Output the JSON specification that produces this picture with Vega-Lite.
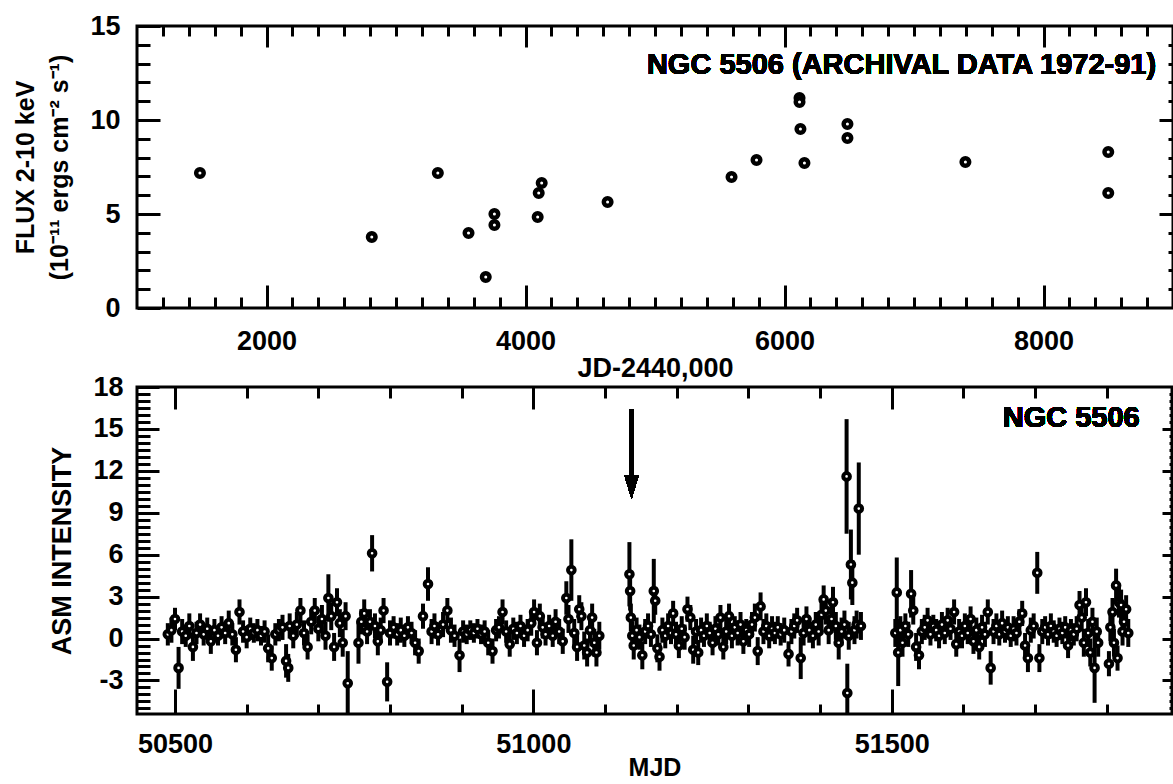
{
  "$schema": "https://vega.github.io/schema/vega-lite/v6.json",
  "background": "white",
  "padding": {"left": 12, "top": 10, "right": 0, "bottom": 0},
  "spacing": 79,
  "bounds": "flush",
  "config": {
    "view": {"stroke": "black", "strokeWidth": 3},
    "axis": {
      "domain": false, "grid": false, "tickColor": "black", "tickWidth": 3,
      "labelFont": "Liberation Sans", "labelFontWeight": "bold", "labelFontSize": 27, "labelColor": "black",
      "labelFlush": false, "labelOverlap": false, "labelBound": false,
      "titleFont": "Liberation Sans", "titleFontWeight": "bold", "titleFontSize": 27, "titleColor": "black"
    }
  },
  "datasets": {
    "archival": [
      {"jd": 1486, "flux": 7.18}, {"jd": 2813, "flux": 3.78}, {"jd": 3323, "flux": 7.18},
      {"jd": 3560, "flux": 3.99}, {"jd": 3693, "flux": 1.65}, {"jd": 3760, "flux": 4.41},
      {"jd": 3760, "flux": 5.0}, {"jd": 4094, "flux": 4.84}, {"jd": 4102, "flux": 6.12},
      {"jd": 4125, "flux": 6.65}, {"jd": 4634, "flux": 5.64}, {"jd": 5591, "flux": 6.97},
      {"jd": 5784, "flux": 7.87}, {"jd": 6116, "flux": 11.17}, {"jd": 6116, "flux": 10.96},
      {"jd": 6123, "flux": 9.52}, {"jd": 6154, "flux": 7.71}, {"jd": 6486, "flux": 9.79},
      {"jd": 6486, "flux": 9.04}, {"jd": 7397, "flux": 7.77}, {"jd": 8500, "flux": 8.3},
      {"jd": 8500, "flux": 6.12}
    ],
    "asm": [
      {"mjd": 50490, "rate": 0.3, "err": 0.8}, {"mjd": 50495, "rate": 0.6, "err": 0.9},
      {"mjd": 50500, "rate": 1.4, "err": 0.8}, {"mjd": 50505, "rate": -2.1, "err": 1.5},
      {"mjd": 50510, "rate": 0.5, "err": 0.9}, {"mjd": 50515, "rate": 0.2, "err": 0.8},
      {"mjd": 50520, "rate": 0.9, "err": 0.9}, {"mjd": 50525, "rate": -0.6, "err": 1.0},
      {"mjd": 50530, "rate": 0.4, "err": 0.8}, {"mjd": 50535, "rate": 1.0, "err": 0.8},
      {"mjd": 50540, "rate": 0.3, "err": 0.8}, {"mjd": 50545, "rate": 0.7, "err": 0.8},
      {"mjd": 50550, "rate": -0.2, "err": 0.9}, {"mjd": 50555, "rate": 0.6, "err": 0.8},
      {"mjd": 50560, "rate": 0.2, "err": 0.7}, {"mjd": 50565, "rate": 0.8, "err": 0.8},
      {"mjd": 50570, "rate": 0.4, "err": 0.8}, {"mjd": 50575, "rate": 1.1, "err": 0.9},
      {"mjd": 50580, "rate": 0.3, "err": 0.8}, {"mjd": 50585, "rate": -0.8, "err": 0.9},
      {"mjd": 50590, "rate": 1.9, "err": 0.9}, {"mjd": 50595, "rate": 0.5, "err": 0.8},
      {"mjd": 50600, "rate": 0.1, "err": 0.8}, {"mjd": 50605, "rate": 0.7, "err": 0.8},
      {"mjd": 50610, "rate": 0.4, "err": 0.7}, {"mjd": 50615, "rate": 0.6, "err": 0.8},
      {"mjd": 50620, "rate": 0.2, "err": 0.7}, {"mjd": 50625, "rate": 0.5, "err": 0.8},
      {"mjd": 50630, "rate": -0.7, "err": 1.0}, {"mjd": 50635, "rate": -1.4, "err": 0.9},
      {"mjd": 50640, "rate": 0.3, "err": 0.8}, {"mjd": 50645, "rate": 0.6, "err": 0.8},
      {"mjd": 50650, "rate": 0.8, "err": 0.9}, {"mjd": 50655, "rate": -1.6, "err": 1.2},
      {"mjd": 50658, "rate": -2.1, "err": 1.0}, {"mjd": 50660, "rate": 0.9, "err": 0.9},
      {"mjd": 50665, "rate": 0.2, "err": 0.9}, {"mjd": 50670, "rate": 1.0, "err": 0.9},
      {"mjd": 50675, "rate": 2.0, "err": 0.9}, {"mjd": 50680, "rate": 0.4, "err": 0.9},
      {"mjd": 50685, "rate": -0.6, "err": 0.9}, {"mjd": 50690, "rate": 1.2, "err": 0.9},
      {"mjd": 50695, "rate": 2.0, "err": 0.9}, {"mjd": 50700, "rate": 0.7, "err": 0.9},
      {"mjd": 50705, "rate": 1.4, "err": 1.0}, {"mjd": 50710, "rate": 0.2, "err": 1.0},
      {"mjd": 50714, "rate": 2.9, "err": 1.7}, {"mjd": 50718, "rate": 1.6, "err": 1.0},
      {"mjd": 50722, "rate": -0.6, "err": 1.0}, {"mjd": 50726, "rate": 2.6, "err": 1.0},
      {"mjd": 50730, "rate": 1.1, "err": 1.0}, {"mjd": 50734, "rate": -0.3, "err": 1.0},
      {"mjd": 50738, "rate": 1.6, "err": 1.0}, {"mjd": 50741, "rate": -3.2, "err": 2.3},
      {"mjd": 50756, "rate": -0.3, "err": 1.5}, {"mjd": 50760, "rate": 1.2, "err": 0.9},
      {"mjd": 50764, "rate": 1.8, "err": 1.0}, {"mjd": 50768, "rate": 0.5, "err": 0.9},
      {"mjd": 50772, "rate": 1.2, "err": 0.9}, {"mjd": 50775, "rate": 6.1, "err": 1.3},
      {"mjd": 50779, "rate": 0.9, "err": 0.9}, {"mjd": 50783, "rate": -0.2, "err": 1.0},
      {"mjd": 50787, "rate": 0.6, "err": 0.9}, {"mjd": 50791, "rate": 2.0, "err": 0.9},
      {"mjd": 50796, "rate": -3.1, "err": 1.4}, {"mjd": 50800, "rate": 0.4, "err": 0.9},
      {"mjd": 50805, "rate": 0.8, "err": 0.8}, {"mjd": 50810, "rate": 0.3, "err": 0.8},
      {"mjd": 50815, "rate": 0.6, "err": 0.9}, {"mjd": 50820, "rate": 0.2, "err": 0.8},
      {"mjd": 50825, "rate": 0.8, "err": 0.8}, {"mjd": 50830, "rate": 0.4, "err": 0.8},
      {"mjd": 50835, "rate": -0.3, "err": 0.9}, {"mjd": 50840, "rate": -0.9, "err": 0.9},
      {"mjd": 50846, "rate": 1.6, "err": 0.9}, {"mjd": 50853, "rate": 3.9, "err": 1.2},
      {"mjd": 50858, "rate": 0.5, "err": 0.9}, {"mjd": 50862, "rate": 0.9, "err": 0.9},
      {"mjd": 50867, "rate": 0.3, "err": 0.8}, {"mjd": 50874, "rate": 1.0, "err": 0.9},
      {"mjd": 50880, "rate": 2.0, "err": 0.9}, {"mjd": 50885, "rate": 0.6, "err": 0.9},
      {"mjd": 50890, "rate": 0.2, "err": 0.8}, {"mjd": 50897, "rate": -1.2, "err": 1.2},
      {"mjd": 50902, "rate": 0.5, "err": 0.8}, {"mjd": 50907, "rate": 0.3, "err": 0.7},
      {"mjd": 50912, "rate": 0.6, "err": 0.7}, {"mjd": 50917, "rate": 0.4, "err": 0.7},
      {"mjd": 50922, "rate": 0.7, "err": 0.7}, {"mjd": 50927, "rate": 0.3, "err": 0.7},
      {"mjd": 50932, "rate": 0.5, "err": 0.8}, {"mjd": 50937, "rate": -0.3, "err": 0.9},
      {"mjd": 50943, "rate": -0.9, "err": 0.9}, {"mjd": 50948, "rate": 0.6, "err": 0.8},
      {"mjd": 50952, "rate": 0.8, "err": 0.8}, {"mjd": 50957, "rate": 1.9, "err": 0.9},
      {"mjd": 50962, "rate": 0.5, "err": 0.8}, {"mjd": 50967, "rate": -0.4, "err": 0.9},
      {"mjd": 50972, "rate": 0.7, "err": 0.8}, {"mjd": 50977, "rate": 0.4, "err": 0.8},
      {"mjd": 50982, "rate": 0.9, "err": 0.8}, {"mjd": 50987, "rate": 0.2, "err": 0.8},
      {"mjd": 50992, "rate": 0.6, "err": 0.8}, {"mjd": 50997, "rate": 1.1, "err": 0.9},
      {"mjd": 51001, "rate": 1.9, "err": 0.9}, {"mjd": 51005, "rate": -0.3, "err": 0.9},
      {"mjd": 51009, "rate": 1.6, "err": 0.9}, {"mjd": 51013, "rate": 0.8, "err": 0.8},
      {"mjd": 51017, "rate": 0.3, "err": 0.8}, {"mjd": 51022, "rate": 0.9, "err": 0.8},
      {"mjd": 51027, "rate": 0.2, "err": 0.8}, {"mjd": 51031, "rate": 1.2, "err": 0.9},
      {"mjd": 51036, "rate": 0.5, "err": 0.9}, {"mjd": 51041, "rate": -0.2, "err": 0.9},
      {"mjd": 51046, "rate": 2.9, "err": 1.2}, {"mjd": 51049, "rate": 1.4, "err": 1.0},
      {"mjd": 51053, "rate": 4.9, "err": 2.2}, {"mjd": 51057, "rate": 0.4, "err": 1.0},
      {"mjd": 51061, "rate": -0.6, "err": 1.0}, {"mjd": 51064, "rate": 2.1, "err": 1.0},
      {"mjd": 51067, "rate": 1.6, "err": 1.0}, {"mjd": 51071, "rate": -0.5, "err": 1.0},
      {"mjd": 51075, "rate": -1.0, "err": 1.0}, {"mjd": 51079, "rate": 0.6, "err": 0.9},
      {"mjd": 51082, "rate": 1.5, "err": 1.0}, {"mjd": 51085, "rate": -0.3, "err": 1.0},
      {"mjd": 51088, "rate": -1.0, "err": 1.0}, {"mjd": 51092, "rate": 0.2, "err": 1.0},
      {"mjd": 51134, "rate": 4.6, "err": 2.3}, {"mjd": 51135, "rate": 3.4, "err": 1.4},
      {"mjd": 51136, "rate": 1.5, "err": 1.0}, {"mjd": 51138, "rate": 0.2, "err": 1.0},
      {"mjd": 51140, "rate": -0.5, "err": 1.0}, {"mjd": 51144, "rate": 0.6, "err": 0.9},
      {"mjd": 51148, "rate": 0.1, "err": 0.9}, {"mjd": 51152, "rate": -1.2, "err": 1.0},
      {"mjd": 51156, "rate": 0.5, "err": 0.9}, {"mjd": 51160, "rate": 0.9, "err": 0.9},
      {"mjd": 51164, "rate": 0.3, "err": 0.9}, {"mjd": 51168, "rate": 3.4, "err": 2.3},
      {"mjd": 51170, "rate": 2.7, "err": 1.0}, {"mjd": 51173, "rate": -0.7, "err": 1.0},
      {"mjd": 51176, "rate": -1.3, "err": 1.0}, {"mjd": 51180, "rate": 0.6, "err": 0.9},
      {"mjd": 51184, "rate": 0.2, "err": 0.9}, {"mjd": 51188, "rate": 0.9, "err": 0.9},
      {"mjd": 51192, "rate": 0.4, "err": 0.8}, {"mjd": 51195, "rate": 1.8, "err": 0.9},
      {"mjd": 51199, "rate": 0.3, "err": 0.9}, {"mjd": 51203, "rate": -0.5, "err": 0.9},
      {"mjd": 51207, "rate": 0.7, "err": 0.9}, {"mjd": 51211, "rate": 0.1, "err": 0.9},
      {"mjd": 51215, "rate": 2.1, "err": 0.9}, {"mjd": 51219, "rate": 1.5, "err": 0.9},
      {"mjd": 51223, "rate": -0.8, "err": 1.0}, {"mjd": 51227, "rate": 0.5, "err": 0.9},
      {"mjd": 51230, "rate": -1.0, "err": 0.9}, {"mjd": 51234, "rate": 0.6, "err": 0.9},
      {"mjd": 51238, "rate": 0.2, "err": 0.8}, {"mjd": 51242, "rate": 0.9, "err": 0.9},
      {"mjd": 51246, "rate": 0.4, "err": 0.8}, {"mjd": 51250, "rate": -0.3, "err": 0.9},
      {"mjd": 51254, "rate": 0.7, "err": 0.9}, {"mjd": 51258, "rate": 0.3, "err": 0.8},
      {"mjd": 51261, "rate": 1.5, "err": 0.9}, {"mjd": 51265, "rate": -0.6, "err": 0.9},
      {"mjd": 51269, "rate": 0.5, "err": 0.9}, {"mjd": 51273, "rate": 1.6, "err": 0.9},
      {"mjd": 51277, "rate": 0.2, "err": 0.9}, {"mjd": 51281, "rate": 0.8, "err": 0.8},
      {"mjd": 51285, "rate": 0.4, "err": 0.9}, {"mjd": 51289, "rate": 1.0, "err": 0.9},
      {"mjd": 51293, "rate": -0.2, "err": 0.9}, {"mjd": 51297, "rate": 0.6, "err": 0.8},
      {"mjd": 51301, "rate": 0.3, "err": 0.9}, {"mjd": 51305, "rate": 1.0, "err": 0.9},
      {"mjd": 51309, "rate": 1.5, "err": 1.0}, {"mjd": 51313, "rate": -0.9, "err": 1.0},
      {"mjd": 51317, "rate": 2.3, "err": 1.0}, {"mjd": 51321, "rate": 0.5, "err": 0.9},
      {"mjd": 51325, "rate": 0.9, "err": 0.9}, {"mjd": 51329, "rate": 0.2, "err": 0.9},
      {"mjd": 51333, "rate": 0.7, "err": 0.9}, {"mjd": 51337, "rate": 0.4, "err": 0.8},
      {"mjd": 51341, "rate": 0.8, "err": 0.8}, {"mjd": 51345, "rate": 0.3, "err": 0.8},
      {"mjd": 51350, "rate": 0.6, "err": 0.9}, {"mjd": 51356, "rate": -1.1, "err": 0.9},
      {"mjd": 51360, "rate": 0.5, "err": 0.9}, {"mjd": 51364, "rate": 0.9, "err": 0.9},
      {"mjd": 51368, "rate": 1.3, "err": 0.9}, {"mjd": 51373, "rate": -1.4, "err": 1.5},
      {"mjd": 51377, "rate": 0.4, "err": 0.9}, {"mjd": 51381, "rate": 1.4, "err": 0.9},
      {"mjd": 51385, "rate": 0.6, "err": 0.9}, {"mjd": 51390, "rate": 0.2, "err": 0.9},
      {"mjd": 51394, "rate": 1.0, "err": 0.9}, {"mjd": 51398, "rate": 0.5, "err": 1.0},
      {"mjd": 51402, "rate": 1.7, "err": 1.0}, {"mjd": 51405, "rate": 2.8, "err": 1.0},
      {"mjd": 51408, "rate": 2.0, "err": 1.0}, {"mjd": 51412, "rate": 0.6, "err": 1.0},
      {"mjd": 51416, "rate": 1.4, "err": 1.0}, {"mjd": 51418, "rate": 2.6, "err": 1.1},
      {"mjd": 51422, "rate": 0.9, "err": 1.0}, {"mjd": 51426, "rate": -0.3, "err": 1.2},
      {"mjd": 51430, "rate": 0.5, "err": 1.0}, {"mjd": 51434, "rate": 1.0, "err": 1.0},
      {"mjd": 51437, "rate": 11.6, "err": 4.1}, {"mjd": 51438, "rate": -3.9, "err": 2.1},
      {"mjd": 51440, "rate": 0.2, "err": 1.0}, {"mjd": 51443, "rate": 5.3, "err": 2.5},
      {"mjd": 51445, "rate": 4.0, "err": 1.6}, {"mjd": 51448, "rate": 0.6, "err": 1.0},
      {"mjd": 51451, "rate": 1.0, "err": 1.0}, {"mjd": 51454, "rate": 9.3, "err": 3.3},
      {"mjd": 51457, "rate": 0.9, "err": 1.0},
      {"mjd": 51505, "rate": 0.4, "err": 1.0}, {"mjd": 51507, "rate": 3.3, "err": 2.5},
      {"mjd": 51509, "rate": -1.0, "err": 2.4}, {"mjd": 51512, "rate": 0.6, "err": 1.0},
      {"mjd": 51515, "rate": -0.3, "err": 1.0}, {"mjd": 51519, "rate": 0.9, "err": 0.9},
      {"mjd": 51523, "rate": 0.3, "err": 0.9}, {"mjd": 51527, "rate": 3.2, "err": 1.7},
      {"mjd": 51530, "rate": 2.0, "err": 1.0}, {"mjd": 51534, "rate": -0.6, "err": 1.0},
      {"mjd": 51538, "rate": -1.2, "err": 1.0}, {"mjd": 51542, "rate": 0.5, "err": 0.9},
      {"mjd": 51546, "rate": 0.8, "err": 0.9}, {"mjd": 51550, "rate": 1.3, "err": 0.9},
      {"mjd": 51554, "rate": 0.3, "err": 0.8}, {"mjd": 51558, "rate": 0.9, "err": 0.8},
      {"mjd": 51562, "rate": 0.6, "err": 0.8}, {"mjd": 51566, "rate": 0.2, "err": 0.9},
      {"mjd": 51570, "rate": 1.0, "err": 0.9}, {"mjd": 51574, "rate": 0.4, "err": 0.8},
      {"mjd": 51578, "rate": 1.3, "err": 0.9}, {"mjd": 51582, "rate": 0.7, "err": 0.8},
      {"mjd": 51587, "rate": 1.9, "err": 0.9}, {"mjd": 51590, "rate": -0.4, "err": 0.9},
      {"mjd": 51594, "rate": 0.5, "err": 0.9}, {"mjd": 51598, "rate": 0.2, "err": 0.9},
      {"mjd": 51602, "rate": 0.9, "err": 0.9}, {"mjd": 51606, "rate": 0.4, "err": 0.8},
      {"mjd": 51610, "rate": 1.4, "err": 0.9}, {"mjd": 51614, "rate": -0.2, "err": 0.9},
      {"mjd": 51618, "rate": 0.6, "err": 0.9}, {"mjd": 51622, "rate": -0.6, "err": 0.9},
      {"mjd": 51626, "rate": 0.8, "err": 0.9}, {"mjd": 51630, "rate": 0.3, "err": 0.9},
      {"mjd": 51634, "rate": 1.9, "err": 0.9}, {"mjd": 51638, "rate": -2.1, "err": 1.2},
      {"mjd": 51642, "rate": 0.5, "err": 0.9}, {"mjd": 51646, "rate": 0.9, "err": 0.9},
      {"mjd": 51650, "rate": 0.3, "err": 0.8}, {"mjd": 51654, "rate": 1.1, "err": 0.9},
      {"mjd": 51658, "rate": 0.5, "err": 0.8}, {"mjd": 51662, "rate": 0.8, "err": 0.8},
      {"mjd": 51666, "rate": 0.2, "err": 0.8}, {"mjd": 51670, "rate": 0.7, "err": 0.9},
      {"mjd": 51674, "rate": 0.4, "err": 0.9}, {"mjd": 51678, "rate": 1.2, "err": 0.9},
      {"mjd": 51682, "rate": 1.8, "err": 0.9}, {"mjd": 51686, "rate": -0.5, "err": 0.9},
      {"mjd": 51690, "rate": -1.4, "err": 1.0}, {"mjd": 51694, "rate": 0.6, "err": 0.9},
      {"mjd": 51698, "rate": 0.9, "err": 0.9}, {"mjd": 51703, "rate": 4.7, "err": 1.5},
      {"mjd": 51706, "rate": -1.4, "err": 1.0}, {"mjd": 51710, "rate": 0.5, "err": 0.9},
      {"mjd": 51714, "rate": 0.8, "err": 0.8}, {"mjd": 51718, "rate": 0.3, "err": 0.8},
      {"mjd": 51722, "rate": 0.9, "err": 0.9}, {"mjd": 51726, "rate": 0.5, "err": 0.8},
      {"mjd": 51730, "rate": 0.2, "err": 0.8}, {"mjd": 51734, "rate": 0.7, "err": 0.8},
      {"mjd": 51738, "rate": 0.4, "err": 0.8}, {"mjd": 51742, "rate": 0.8, "err": 0.8},
      {"mjd": 51746, "rate": -0.5, "err": 0.9}, {"mjd": 51750, "rate": 0.6, "err": 0.8},
      {"mjd": 51754, "rate": 0.3, "err": 0.8}, {"mjd": 51758, "rate": 0.7, "err": 0.9},
      {"mjd": 51762, "rate": 2.4, "err": 1.0}, {"mjd": 51765, "rate": 1.5, "err": 1.0},
      {"mjd": 51768, "rate": -0.3, "err": 1.0}, {"mjd": 51771, "rate": 2.6, "err": 1.0},
      {"mjd": 51774, "rate": 0.4, "err": 1.0}, {"mjd": 51777, "rate": -1.0, "err": 1.0},
      {"mjd": 51780, "rate": 1.2, "err": 1.0}, {"mjd": 51783, "rate": -2.1, "err": 2.5},
      {"mjd": 51786, "rate": 0.5, "err": 1.0}, {"mjd": 51788, "rate": -0.3, "err": 1.0},
      {"mjd": 51803, "rate": -1.8, "err": 0.9}, {"mjd": 51805, "rate": 0.8, "err": 1.0},
      {"mjd": 51808, "rate": 1.9, "err": 1.0}, {"mjd": 51810, "rate": -0.3, "err": 1.0},
      {"mjd": 51813, "rate": 3.8, "err": 1.2}, {"mjd": 51815, "rate": -1.4, "err": 0.9},
      {"mjd": 51817, "rate": 2.6, "err": 1.1}, {"mjd": 51820, "rate": 2.4, "err": 1.1},
      {"mjd": 51822, "rate": 0.5, "err": 1.0}, {"mjd": 51824, "rate": 1.2, "err": 1.0},
      {"mjd": 51827, "rate": 2.1, "err": 1.0}, {"mjd": 51830, "rate": 0.4, "err": 1.0}
    ]
  },
  "vconcat": [
    {
      "width": 1036,
      "height": 282,
      "data": {"name": "archival"},
      "resolve": {"axis": {"x": "independent", "y": "independent"}},
      "layer": [
        {
          "mark": {"type": "point", "shape": "circle", "filled": true, "fill": "white", "stroke": "black", "strokeWidth": 4.5, "size": 57, "opacity": 1},
          "encoding": {
            "x": {"field": "jd", "type": "quantitative",
              "scale": {"domain": [1000, 9000], "nice": false, "zero": false},
              "axis": {"orient": "bottom", "values": [2000, 4000, 6000, 8000], "format": "d", "offset": -23, "tickSize": 23, "labelPadding": 20, "title": "JD-2440,000", "titlePadding": 1}},
            "y": {"field": "flux", "type": "quantitative",
              "scale": {"domain": [0, 15], "nice": false, "zero": false},
              "axis": {"orient": "left", "values": [0, 5, 10, 15], "format": "d", "offset": -23, "tickSize": 23, "labelPadding": 17,
                "title": ["FLUX 2-10 keV", "(10⁻¹¹ ergs cm⁻² s⁻¹)"], "titleFontSize": 25, "titleLineHeight": 34, "titlePadding": 17}}
          }
        },
        {
          "mark": {"type": "point", "opacity": 0},
          "encoding": {
            "x": {"field": "jd", "type": "quantitative",
              "axis": {"orient": "bottom", "values": [1200,1400,1600,1800,2200,2400,2600,2800,3000,3200,3400,3600,3800,4200,4400,4600,4800,5000,5200,5400,5600,5800,6200,6400,6600,6800,7000,7200,7400,7600,7800,8200,8400,8600,8800], "offset": -11, "tickSize": 11, "labels": false, "title": null}},
            "y": {"field": "flux", "type": "quantitative",
              "axis": {"orient": "left", "values": [1,2,3,4,6,7,8,9,11,12,13,14], "offset": -13, "tickSize": 13, "labels": false, "title": null}}
          }
        },
        {
          "mark": {"type": "point", "opacity": 0},
          "encoding": {
            "x": {"field": "jd", "type": "quantitative",
              "axis": {"orient": "top", "values": [2000, 4000, 6000, 8000], "offset": -21, "tickSize": 21, "labels": false, "title": null}},
            "y": {"field": "flux", "type": "quantitative",
              "axis": {"orient": "right", "values": [5, 10], "offset": -14, "tickSize": 14, "labels": false, "title": null}}
          }
        },
        {
          "mark": {"type": "point", "opacity": 0},
          "encoding": {
            "x": {"field": "jd", "type": "quantitative",
              "axis": {"orient": "top", "values": [1200,1400,1600,1800,2200,2400,2600,2800,3000,3200,3400,3600,3800,4200,4400,4600,4800,5000,5200,5400,5600,5800,6200,6400,6600,6800,7000,7200,7400,7600,7800,8200,8400,8600,8800], "offset": -10, "tickSize": 10, "labels": false, "title": null}},
            "y": {"field": "flux", "type": "quantitative",
              "axis": {"orient": "right", "values": [1,2,3,4,6,7,8,9,11,12,13,14], "offset": -5, "tickSize": 5, "labels": false, "title": null}}
          }
        },
        {
          "mark": {"type": "text", "text": "NGC 5506 (ARCHIVAL DATA 1972-91)", "align": "right", "baseline": "middle", "font": "Liberation Sans", "fontWeight": "bold", "fontSize": 29, "color": "black"},
          "encoding": {
            "x": {"datum": 8870, "type": "quantitative", "axis": null},
            "y": {"datum": 12.95, "type": "quantitative", "axis": null}
          }
        }
      ]
    },
    {
      "width": 1035,
      "height": 327,
      "data": {"name": "asm"},
      "resolve": {"axis": {"x": "independent", "y": "independent"}},
      "layer": [
        {
          "mark": {"type": "errorbar", "ticks": false, "thickness": 4, "color": "black"},
          "encoding": {
            "x": {"field": "mjd", "type": "quantitative",
              "scale": {"domain": [50447, 51891], "nice": false, "zero": false},
              "axis": {"orient": "bottom", "values": [50500, 51000, 51500], "format": "d", "offset": -25, "tickSize": 25, "labelPadding": 17, "title": "MJD", "titleFontSize": 25, "titlePadding": -2}},
            "y": {"field": "rate", "type": "quantitative",
              "scale": {"domain": [-5.4, 18], "nice": false, "zero": false, "clamp": true},
              "axis": {"orient": "left", "values": [-3, 0, 3, 6, 9, 12, 15, 18], "labelExpr": "'' + datum.value", "offset": -22, "tickSize": 22, "labelPadding": 14,
                "title": "ASM INTENSITY", "titleFontSize": 27, "titlePadding": 16}},
            "yError": {"field": "err"}
          }
        },
        {
          "mark": {"type": "point", "shape": "circle", "filled": true, "fill": "white", "stroke": "black", "strokeWidth": 4, "size": 44, "opacity": 1},
          "encoding": {
            "x": {"field": "mjd", "type": "quantitative", "axis": null},
            "y": {"field": "rate", "type": "quantitative", "axis": null}
          }
        },
        {
          "mark": {"type": "point", "opacity": 0},
          "encoding": {
            "x": {"field": "mjd", "type": "quantitative",
              "axis": {"orient": "bottom", "values": [50600, 50700, 50800, 50900, 51100, 51200, 51300, 51400, 51600, 51700, 51800], "offset": -10, "tickSize": 10, "labels": false, "title": null}},
            "y": {"field": "rate", "type": "quantitative",
              "axis": {"orient": "left", "values": [-5,-4.5,-4,-3.5,-2.5,-2,-1.5,-1,-0.5,0.5,1,1.5,2,2.5,3.5,4,4.5,5,5.5,6.5,7,7.5,8,8.5,9.5,10,10.5,11,11.5,12.5,13,13.5,14,14.5,15.5,16,16.5,17,17.5], "offset": -13, "tickSize": 13, "labels": false, "title": null}}
          }
        },
        {
          "mark": {"type": "point", "opacity": 0},
          "encoding": {
            "x": {"field": "mjd", "type": "quantitative",
              "axis": {"orient": "top", "values": [50500, 51000, 51500], "offset": -22, "tickSize": 22, "labels": false, "title": null}},
            "y": {"field": "rate", "type": "quantitative",
              "axis": {"orient": "right", "values": [-3, 0, 3, 6, 9, 12, 15], "offset": -10, "tickSize": 10, "labels": false, "title": null}}
          }
        },
        {
          "mark": {"type": "point", "opacity": 0},
          "encoding": {
            "x": {"field": "mjd", "type": "quantitative",
              "axis": {"orient": "top", "values": [50600, 50700, 50800, 50900, 51100, 51200, 51300, 51400, 51600, 51700, 51800], "offset": -11, "tickSize": 11, "labels": false, "title": null}},
            "y": {"field": "rate", "type": "quantitative",
              "axis": {"orient": "right", "values": [-5,-4.5,-4,-3.5,-2.5,-2,-1.5,-1,-0.5,0.5,1,1.5,2,2.5,3.5,4,4.5,5,5.5,6.5,7,7.5,8,8.5,9.5,10,10.5,11,11.5,12.5,13,13.5,14,14.5,15.5,16,16.5,17,17.5], "offset": -3, "tickSize": 3, "labels": false, "title": null}}
          }
        },
        {
          "mark": {"type": "rule", "strokeWidth": 4.5, "color": "black"},
          "encoding": {
            "x": {"datum": 51137, "type": "quantitative", "axis": null},
            "y": {"datum": 16.4, "type": "quantitative", "axis": null},
            "y2": {"datum": 11.4}
          }
        },
        {
          "mark": {"type": "point", "shape": "M-0.6,-1L0.6,-1L0,1Z", "filled": true, "fill": "black", "strokeWidth": 0, "size": 529, "opacity": 1},
          "encoding": {
            "x": {"datum": 51137, "type": "quantitative", "axis": null},
            "y": {"datum": 10.82, "type": "quantitative", "axis": null}
          }
        },
        {
          "mark": {"type": "text", "text": "NGC 5506", "align": "right", "baseline": "middle", "font": "Liberation Sans", "fontWeight": "bold", "fontSize": 29, "color": "black"},
          "encoding": {
            "x": {"datum": 51846, "type": "quantitative", "axis": null},
            "y": {"datum": 15.8, "type": "quantitative", "axis": null}
          }
        }
      ]
    }
  ]
}
